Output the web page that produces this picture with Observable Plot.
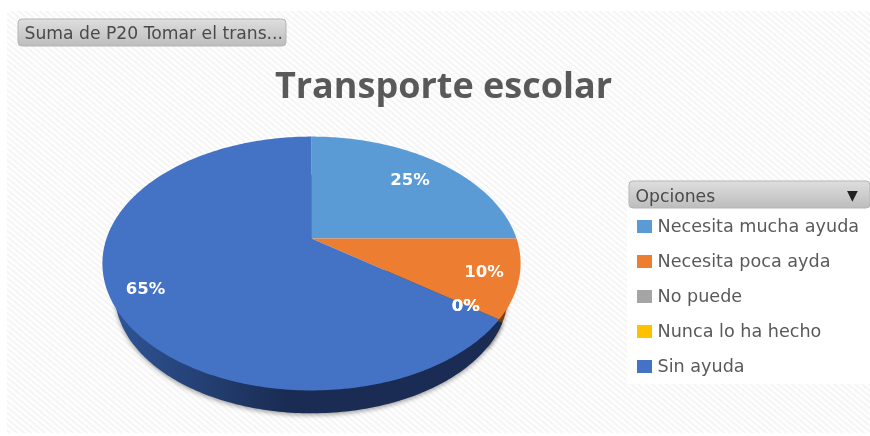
<!DOCTYPE html>
<html>
<head>
<meta charset="utf-8">
<script src="https://cdn.jsdelivr.net/npm/d3@7"></script>
<script src="https://cdn.jsdelivr.net/npm/@observablehq/plot@0.6"></script>
<style>
html,body{margin:0;padding:0;background:#fff;width:870px;height:436px;overflow:hidden}
svg{display:block;filter:blur(.35px)}
</style>
</head>
<body>
<div id="chart"></div>
<script>
const categories = ["Necesita mucha ayuda", "Necesita poca ayda", "No puede", "Nunca lo ha hecho", "Sin ayuda"];
const values = [25, 10, 0, 0, 65];
const colors = ["#5b9bd5", "#ed7d31", "#a5a5a5", "#ffc000", "#4472c4"];
const labelReach = [0.75, 0.84, 0.84, 0.84, 0.84];
const chartTitle = "Transporte escolar";
const fieldButton = "Suma de P20 Tomar el trans...";
const legendTitle = "Opciones";

const font = "DejaVu Sans";
const apex = {x: 311, y: 238}, halfW = 205, depthY = 122, persp = -0.197;
const project = (theta, r) => {
  const u = r * Math.sin(theta), v = -r * Math.cos(theta), w = 1 + persp * v;
  return {x: apex.x + halfW * u / w, y: apex.y + depthY * v / w};
};
const lower = p => ({x: apex.x + (p.x - apex.x) * 0.94, y: apex.y + (p.y - apex.y) * 0.94 + 32});

const total = d3.sum(values);
const slices = [];
let cum = 0;
categories.forEach((cat, i) => {
  const a0 = cum / total * 2 * Math.PI;
  cum += values[i];
  const a1 = cum / total * 2 * Math.PI;
  slices.push({cat, value: values[i], a0, a1, i});
});
const outline = (s, lead = 0) => {
  const a0 = s.a0 - lead;
  const n = Math.max(2, Math.ceil((s.a1 - a0) * 60));
  const pts = [{...project(0, 0), cat: s.cat}];
  for (let k = 0; k <= n; ++k) pts.push({...project(a0 + (s.a1 - a0) * k / n, 1), cat: s.cat});
  return pts;
};
const shown = slices.filter(s => s.value > 0);
const topFace = shown.flatMap(s => outline(s));
// The lower rim is drawn smaller than the top face, so the side of the large slice starts a little earlier to meet its top corner.
const under = shown.flatMap(s => outline(s, s.cat === "Sin ayuda" ? 0.2 : 0)).map(p => ({...lower(p), cat: p.cat}));
const labels = slices.map(s => ({...project((s.a0 + s.a1) / 2, labelReach[s.i]), text: s.value + "%"}));
const sideShadow = "drop-shadow(0 2px 2px rgba(0,0,0,.35))";

const chart = Plot.plot({
  width: 870, height: 436, margin: 0,
  x: {domain: [0, 870], range: [0, 870], axis: null},
  y: {domain: [0, 436], range: [0, 436], axis: null},
  color: {domain: categories, range: colors},
  style: {background: "transparent", fontFamily: font},
  marks: [
    Plot.rect([0], {x1: 7, x2: 870, y1: 11, y2: 433, fill: "url(#hatch)"}),
    Plot.line(under.filter(p => p.cat === "Necesita poca ayda"), {x: "x", y: "y", z: "cat", fill: "#7a3d12", stroke: "none", imageFilter: sideShadow}),
    Plot.line(under.filter(p => p.cat === "Sin ayuda"), {x: "x", y: "y", z: "cat", fill: "url(#side)", stroke: "none", imageFilter: sideShadow}),
    Plot.line(topFace, {x: "x", y: "y", z: "cat", fill: "cat", stroke: "none", curve: "linear"}),
    Plot.text(labels, {x: "x", y: "y", text: "text", fill: "white", fontWeight: "bold", fontSize: 16.5, fontFamily: font}),
    Plot.text([chartTitle], {x: 443, y: 86, text: d => d, fill: "#595959", fontWeight: "bold", fontSize: 36, fontFamily: "Open Sans"}),
    Plot.rect([0], {x1: 18, x2: 286, y1: 19, y2: 46, rx: 4, fill: "url(#btn)", stroke: "#b5b5b5"}),
    Plot.text([fieldButton], {x: 24, y: 33, text: d => d, textAnchor: "start", fill: "#4a4a4a", fontSize: 17.2, fontFamily: font}),
    Plot.rect([0], {x1: 627, x2: 870, y1: 208, y2: 384, fill: "white", fillOpacity: 0.92}),
    Plot.rect([0], {x1: 629, x2: 870, y1: 181, y2: 208, rx: 4, fill: "url(#btn)", stroke: "#b5b5b5"}),
    Plot.text([legendTitle], {x: 635, y: 196, text: d => d, textAnchor: "start", fill: "#4a4a4a", fontSize: 17.2, fontFamily: font}),
    Plot.text(["▼"], {x: 852, y: 195, text: d => d, fill: "#222", fontSize: 14, fontFamily: font}),
    Plot.rect(categories, {x1: 637, x2: 652, y1: (d, i) => 220 + 35 * i, y2: (d, i) => 233 + 35 * i, fill: d => d}),
    Plot.text(categories, {x: 657, y: (d, i) => 226 + 35 * i, text: d => d, textAnchor: "start", fill: "#595959", fontSize: 17.6, fontFamily: font})
  ]
});

const defs = d3.select(chart).insert("defs", ":first-child");
const hatch = defs.append("pattern").attr("id", "hatch").attr("patternUnits", "userSpaceOnUse")
  .attr("width", 4.5).attr("height", 4.5).attr("patternTransform", "rotate(40)");
hatch.append("rect").attr("width", 4.5).attr("height", 4.5).attr("fill", "#ffffff");
hatch.append("rect").attr("width", 4.5).attr("height", 2.2).attr("fill", "#f5f5f5");
const side = defs.append("linearGradient").attr("id", "side").attr("gradientUnits", "userSpaceOnUse")
  .attr("x1", 110).attr("x2", 285).attr("y1", 0).attr("y2", 0);
side.append("stop").attr("offset", 0).attr("stop-color", "#2f5597");
side.append("stop").attr("offset", 1).attr("stop-color", "#1a2c53");
const btn = defs.append("linearGradient").attr("id", "btn").attr("x1", 0).attr("x2", 0).attr("y1", 0).attr("y2", 1);
btn.append("stop").attr("offset", 0).attr("stop-color", "#dedede");
btn.append("stop").attr("offset", 1).attr("stop-color", "#bdbdbd");
document.getElementById("chart").append(chart);
</script>
</body>
</html>
